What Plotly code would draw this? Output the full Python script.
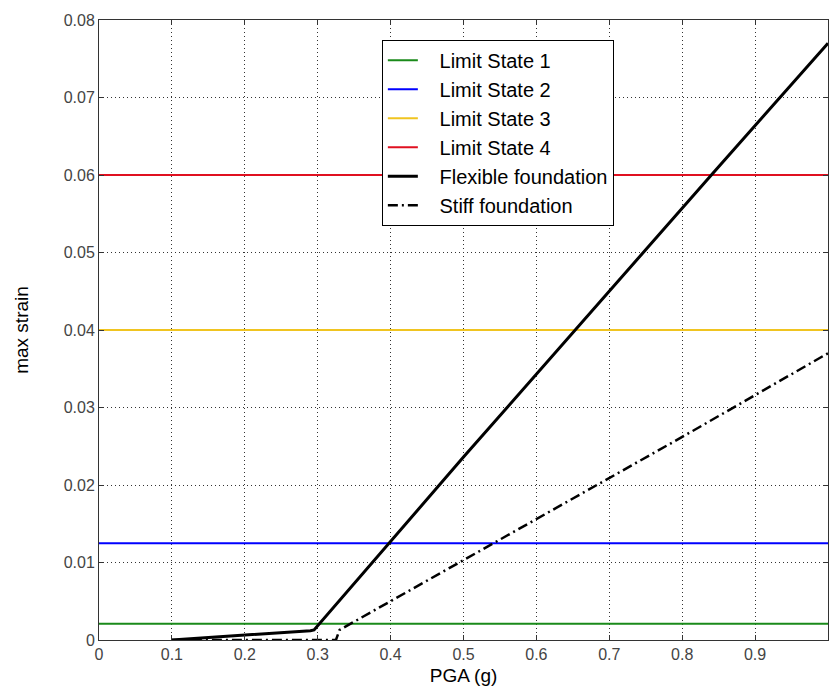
import plotly.graph_objects as go

# Data
x_limits = [0.0, 1.0]
limit_names = ["Limit State 1", "Limit State 2", "Limit State 3", "Limit State 4"]
limit_values = [0.0021, 0.0125, 0.04, 0.06]
limit_colors = ["#1a8a1a", "#0000ff", "#f0c420", "#e01020"]

flex_x = [0.1, 0.2, 0.29, 0.295, 0.5, 0.84, 1.0]
flex_y = [0.0, 0.0006, 0.0012, 0.0013, 0.0236, 0.0600, 0.0770]

stiff_x = [0.1, 0.2, 0.325, 0.33, 0.4, 0.5, 0.8, 1.0]
stiff_y = [0.0, 0.0, 0.0, 0.0013, 0.0050, 0.0103, 0.0262, 0.0370]

x_ticks = [0, 0.1, 0.2, 0.3, 0.4, 0.5, 0.6, 0.7, 0.8, 0.9, 1.0]
x_tick_labels = ["0", "0.1", "0.2", "0.3", "0.4", "0.5", "0.6", "0.7", "0.8", "0.9", "1"]
y_ticks = [0, 0.01, 0.02, 0.03, 0.04, 0.05, 0.06, 0.07, 0.08]
y_tick_labels = ["0", "0.01", "0.02", "0.03", "0.04", "0.05", "0.06", "0.07", "0.08"]

pad = "\u00a0\u00a0\u00a0"

fig = go.Figure()
for name, val, col in zip(limit_names, limit_values, limit_colors):
    fig.add_trace(go.Scatter(x=x_limits, y=[val, val], mode="lines", name=pad + name,
                             line=dict(color=col, width=2)))
fig.add_trace(go.Scatter(x=flex_x, y=flex_y, mode="lines", name=pad + "Flexible foundation",
                         line=dict(color="black", width=3)))
fig.add_trace(go.Scatter(x=stiff_x, y=stiff_y, mode="lines", name=pad + "Stiff foundation",
                         line=dict(color="black", width=2.5, dash="10px,4px,2px,4px")))

axis_common = dict(
    showgrid=True, gridcolor="#333", griddash="1px,3px", gridwidth=1,
    showline=True, linecolor="#333", linewidth=1, mirror="ticks",
    ticks="inside", ticklen=5, tickcolor="#333",
    zeroline=False,
    tickfont=dict(family="Arial, Liberation Sans, sans-serif", size=16, color="#444"),
)

fig.update_layout(
    width=829, height=687,
    margin=dict(l=99, r=1, t=20, b=47),
    paper_bgcolor="white", plot_bgcolor="white",
    font=dict(family="Arial, Liberation Sans, sans-serif", color="black"),
    xaxis=dict(range=[0, 1], tickvals=x_ticks, ticktext=x_tick_labels,
               title=dict(text="PGA (g)", font=dict(size=19), standoff=6), **axis_common),
    yaxis=dict(range=[0, 0.08], tickvals=y_ticks, ticktext=y_tick_labels,
               title=dict(text="max strain", font=dict(size=19), standoff=30), **axis_common),
    legend=dict(x=0.388, y=0.968, xanchor="left", yanchor="top",
                bgcolor="white", bordercolor="black", borderwidth=1,
                font=dict(size=20, color="black"), tracegroupgap=0),
    showlegend=True,
)

fig.write_html("out.html")
